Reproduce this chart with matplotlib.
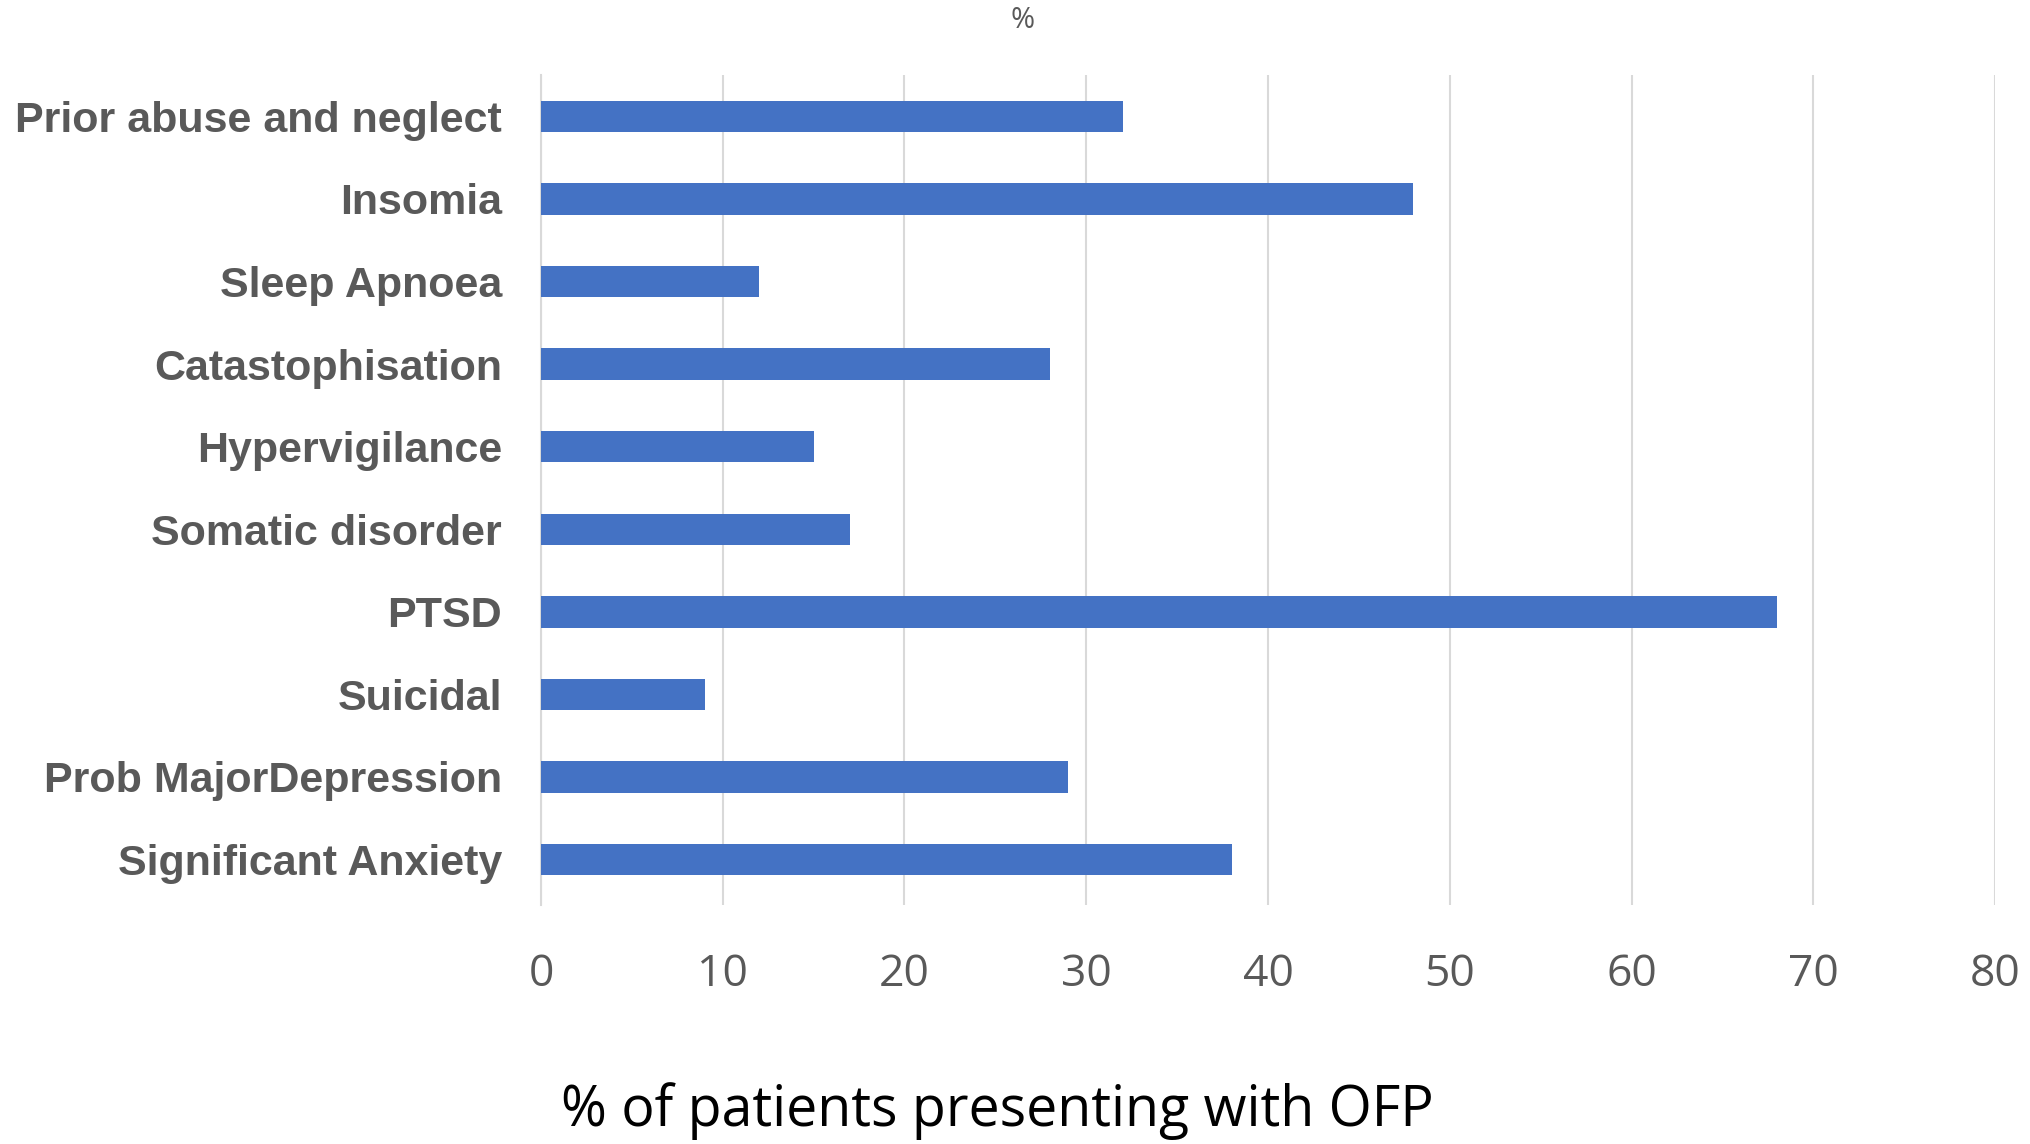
import matplotlib.pyplot as plt

# Psychological comorbidities in orofacial pain (OFP) patients
categories = ['Significant Anxiety', 'Prob MajorDepression', 'Suicidal', 'PTSD',
              'Somatic disorder', 'Hypervigilance', 'Catastophisation',
              'Sleep Apnoea', 'Insomia', 'Prior abuse and neglect']
percent = [38, 29, 9, 68, 17, 15, 28, 12, 48, 32]
xticks = [0, 10, 20, 30, 40, 50, 60, 70, 80]

bar_color = '#4472C4'
grid_color = '#D9D9D9'
text_gray = '#595959'

fig = plt.figure(figsize=(20.31, 11.44), dpi=100)
ax = fig.add_axes([541 / 2031, 1 - 905 / 1144, (1995 - 541) / 2031, (905 - 75) / 1144])

ypos = range(len(categories))
ax.barh(ypos, percent, height=0.38, color=bar_color, zorder=3)

ax.set_xlim(0, 80)
ax.set_ylim(-0.55, 9.5)
ax.set_xticks(xticks)
ax.set_xticklabels([str(t) for t in xticks], fontsize=32, color=text_gray,
                   family='Open Sans')
ax.set_yticks(list(ypos))
ax.set_yticklabels(categories, fontsize=31, color=text_gray, fontweight='bold',
                   family='Liberation Sans')
ax.tick_params(axis='x', length=0, pad=34)
ax.tick_params(axis='y', length=0, pad=28)

ax.xaxis.grid(True, color=grid_color, linewidth=1.5, zorder=0)
for side in ['top', 'right', 'bottom']:
    ax.spines[side].set_visible(False)
ax.spines['left'].set_color(grid_color)
ax.spines['left'].set_linewidth(1.5)

# chart title and axis title sit centred on the whole figure
fig.text(1023 / 2031, 1 - 21 / 1144, '%', fontsize=21, color=text_gray,
         family='Open Sans', ha='center', va='center')
fig.text(997 / 2031, 1 - 1111 / 1144, '% of patients presenting with OFP',
         fontsize=40, color='black', family='Open Sans', ha='center', va='center')

fig.savefig('out.png', dpi=100, facecolor='white')
